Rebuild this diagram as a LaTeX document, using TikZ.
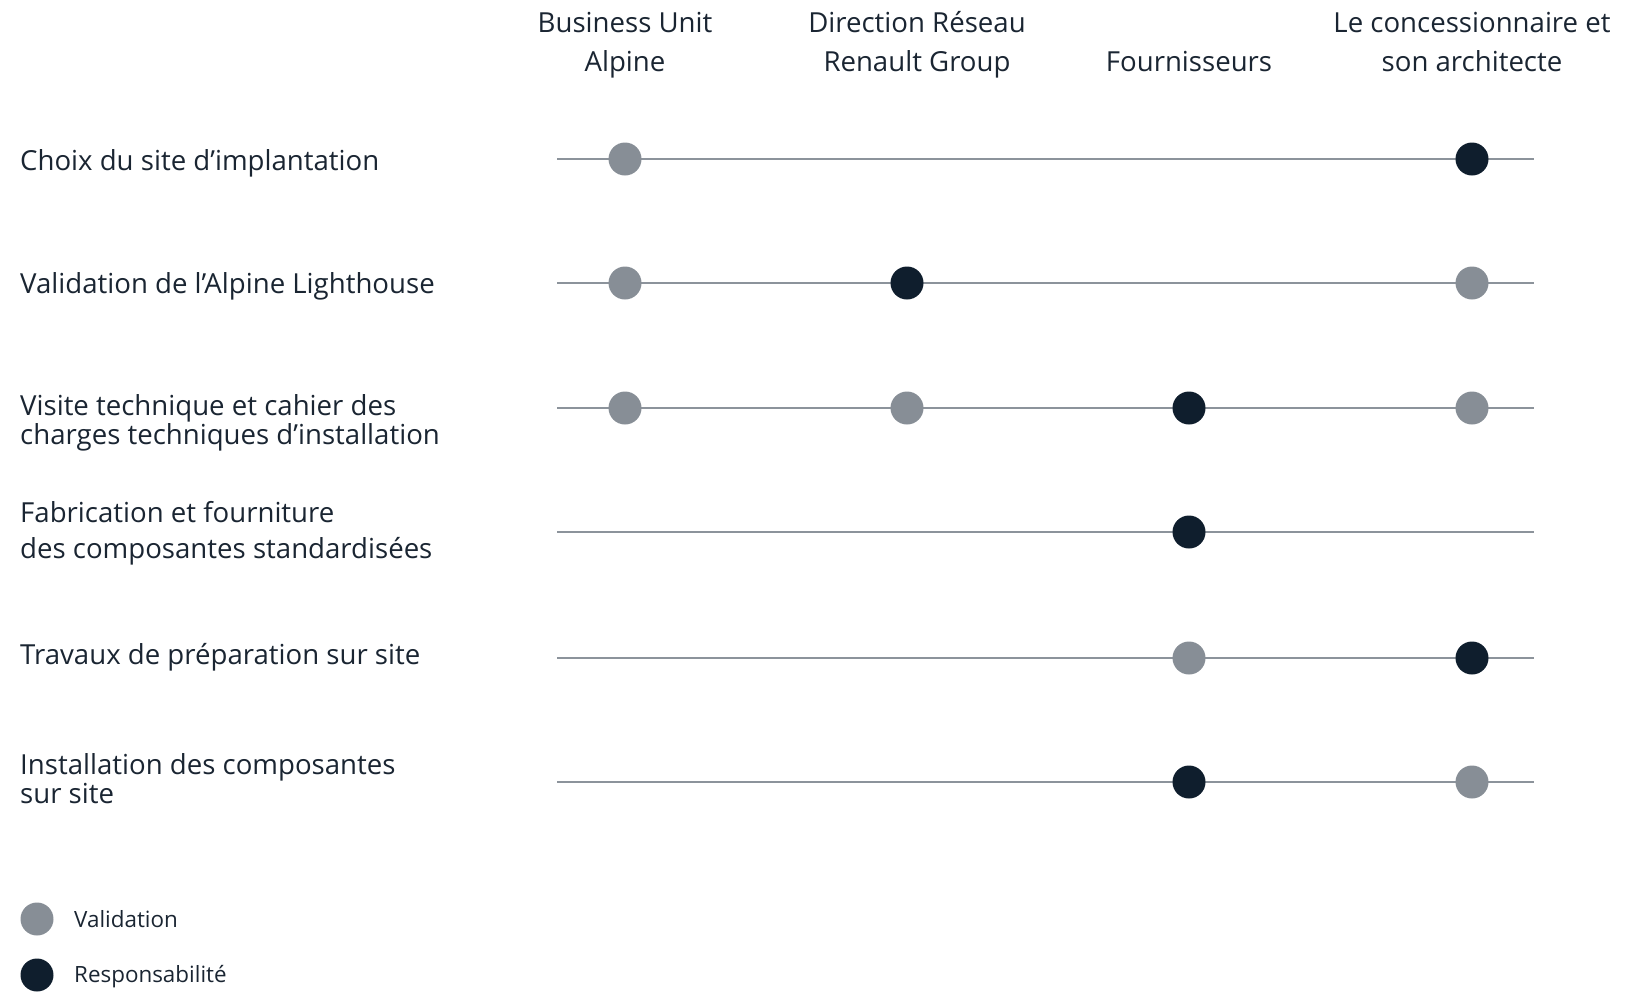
\documentclass[tikz,border=0pt]{standalone}
\usepackage{fontspec}
\setmainfont{Open Sans}
\definecolor{navy}{HTML}{0F1E2D}
\definecolor{greydot}{HTML}{878E96}
\definecolor{rule}{HTML}{8C939B}
\definecolor{ink}{HTML}{1A2532}
\begin{document}
\begin{tikzpicture}[x=1pt,y=-1pt,
  lbl/.style={anchor=west,inner sep=0pt,text=ink,font=\fontsize{27.6}{32}\selectfont,text height=0.76em,text depth=0.24em},
  hdr/.style={anchor=center,inner sep=0pt,text=ink,font=\fontsize{27.6}{32}\selectfont,text height=0.76em,text depth=0.24em},
  leg/.style={anchor=west,inner sep=0pt,text=ink,font=\fontsize{22.4}{26}\selectfont},
  val/.style={circle,fill=greydot,minimum size=33pt,inner sep=0pt},
  resp/.style={circle,fill=navy,minimum size=33pt,inner sep=0pt},
  track/.style={draw=rule,line width=1.4pt}]
\useasboundingbox (0,0) rectangle (1643,991);
% headers
\node[hdr] (h1a) at (625,30) {Business Unit};
\node[hdr] (h1b) at (625,69) {Alpine};
\node[hdr] (h2a) at (917,30) {Direction Réseau};
\node[hdr] (h2b) at (917,69) {Renault Group};
\node[hdr] (h3b) at (1189,69) {Fournisseurs};
\node[hdr] (h4a) at (1472,30) {Le concessionnaire et};
\node[hdr] (h4b) at (1472,69) {son architecte};
% row labels
\node[lbl] (r1) at (20,168) {Choix du site d’implantation};
\node[lbl] (r2) at (20,291) {Validation de l’Alpine Lighthouse};
\node[lbl] (r3a) at (20,413) {Visite technique et cahier des};
\node[lbl] (r3b) at (20,442) {charges techniques d’installation};
\node[lbl] (r4a) at (20,520) {Fabrication et fourniture};
\node[lbl] (r4b) at (20,556) {des composantes standardisées};
\node[lbl] (r5) at (20,662) {Travaux de préparation sur site};
\node[lbl] (r6a) at (20,772) {Installation des composantes};
\node[lbl] (r6b) at (20,801) {sur site};
% tracks
\foreach \i/\y in {1/159,2/283,3/408,4/532,5/658,6/782}{
  \coordinate (s\i) at (557,\y);
  \coordinate (e\i) at (1534,\y);
  \draw[track] (s\i) -- (e\i);
}
% dots
\node[val] (d11) at (625,159) {};
\node[resp] (d14) at (1472,159) {};
\node[val] (d21) at (625,283) {};
\node[resp] (d22) at (907,283) {};
\node[val] (d24) at (1472,283) {};
\node[val] (d31) at (625,408) {};
\node[val] (d32) at (907,408) {};
\node[resp] (d33) at (1189,408) {};
\node[val] (d34) at (1472,408) {};
\node[resp] (d43) at (1189,532) {};
\node[val] (d53) at (1189,658) {};
\node[resp] (d54) at (1472,658) {};
\node[resp] (d63) at (1189,782) {};
\node[val] (d64) at (1472,782) {};
% legend
\node[val] (lv) at (37,919) {};
\node[leg] (lvt) at (74,919) {Validation};
\node[resp] (lr) at (37,975) {};
\node[leg] (lrt) at (74,977) {Responsabilité};
\end{tikzpicture}
\end{document}
